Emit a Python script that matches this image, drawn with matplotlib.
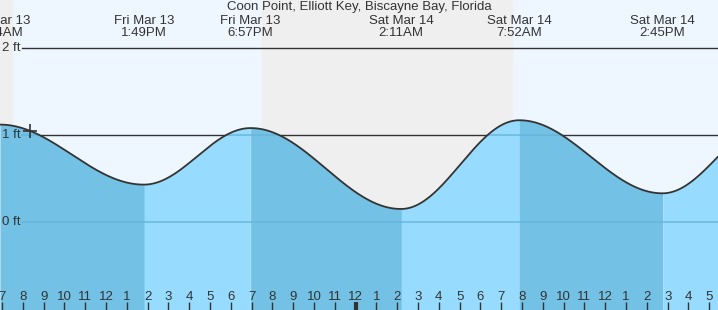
import numpy as np
import matplotlib
matplotlib.use('Agg')
import matplotlib.pyplot as plt

# tide extremes, hours since midnight Fri Mar 13
ext_hours = [0.5, 6.9, 13.817, 18.95, 26.183, 31.867, 38.75, 44.0]
ext_feet = [0.55, 1.12, 0.43, 1.08, 0.15, 1.17, 0.33, 1.15]
ext_labels = ['Fri Mar 13\n6:54AM', 'Fri Mar 13\n1:49PM', 'Fri Mar 13\n6:57PM',
              'Sat Mar 14\n2:11AM', 'Sat Mar 14\n7:52AM', 'Sat Mar 14\n2:45PM']
sunrise_1 = 7.5
sunset_1 = 19.5
sunrise_2 = 31.52
now_hour = 8.35
title = 'Coon Point, Elliott Key, Biscayne Bay, Florida'
feet_ticks = [0, 1, 2]
hour_ticks = list(range(7, 42))

x0, x1 = 6.904, 41.42
y0, y1 = -1.011, 2.552

DAY = '#eef7ff'
NIGHT = '#efefef'
FALL = '#73c2e6'
RISE = '#97dcfe'
INK = '#333333'

plt.rcParams['font.family'] = ['Liberation Sans', 'DejaVu Sans']


def tide(t):
    t = np.asarray(t, dtype=float)
    out = np.zeros_like(t)
    for i in range(len(ext_hours) - 1):
        a, b = ext_hours[i], ext_hours[i + 1]
        ha, hb = ext_feet[i], ext_feet[i + 1]
        m = (t >= a) & (t <= b)
        f = (1 - np.cos(np.pi * (t[m] - a) / (b - a))) / 2
        out[m] = ha + (hb - ha) * f
    return out


fig = plt.figure(figsize=(7.18, 3.10), dpi=100)
ax = fig.add_axes([0, 0, 1, 1])
ax.set_xlim(x0, x1)
ax.set_ylim(y0, y1)
ax.axis('off')

# day / night background
ax.axvspan(x0, x1, color=DAY, zorder=0)
ax.axvspan(x0, sunrise_1, color=NIGHT, zorder=0.1)
ax.axvspan(sunset_1, sunrise_2, color=NIGHT, zorder=0.1)

# foot lines under the water
for ft in feet_ticks[1:]:
    ax.plot([7.95, x1], [ft, ft], color=INK, lw=1, zorder=1)

# water, banded between extremes
t = np.linspace(x0, x1, 2000)
h = tide(t)
bounds = [x0] + [e for e in ext_hours if x0 < e < x1] + [x1]
for i in range(len(bounds) - 1):
    a, b = bounds[i], bounds[i + 1]
    m = (t >= a) & (t <= b)
    mid = (a + b) / 2
    k = np.searchsorted(ext_hours, mid) - 1
    falling = ext_feet[k + 1] < ext_feet[k]
    ax.fill_between(t[m], y0, h[m], color=FALL if falling else RISE, lw=0, zorder=2)
    ax.fill_between([b - 0.001, b + 0.05], y0, [tide([b])[0]] * 2,
                    color=FALL if falling else RISE, lw=0, zorder=2)

ax.plot(t, h, color=INK, lw=1.3, zorder=4)

# faint foot lines inside the water
for ft in feet_ticks[:2]:
    m = h > ft
    ax.plot(np.where(m & (t > 7.95), t, np.nan), np.full_like(t, ft),
            color='#66b3d9', lw=1, zorder=3)

for ft in feet_ticks:
    ax.text(x0 + 0.1, ft, '%d ft' % ft, color=INK, fontsize=9.5,
            va='center', ha='left', zorder=5)

# current time marker
ax.plot([now_hour], tide([now_hour]), marker='+', ms=10, mew=1.2, color=INK, zorder=5)

# extreme labels
for e, lab in zip(ext_hours[1:7], ext_labels):
    ax.text(e, y1 - 0.31, lab, ha='center', va='center', fontsize=9.5,
            color=INK, linespacing=0.95, zorder=5)

ax.text((x0 + x1) / 2, y1 - 0.085, title, ha='center', va='center',
        fontsize=9.5, color=INK, zorder=5)

# hour ticks
for hr in hour_ticks:
    lab = (hr - 1) % 12 + 1
    ax.text(hr, y0 + 0.155, str(lab), ha='center', va='center', fontsize=9.5,
            color=INK, zorder=5)
    lw = 3 if hr % 24 == 0 else 1
    ax.plot([hr, hr], [y0, y0 + 0.09], color=INK, lw=lw, zorder=5,
            solid_capstyle='butt')

fig.savefig('out.png', dpi=100)
